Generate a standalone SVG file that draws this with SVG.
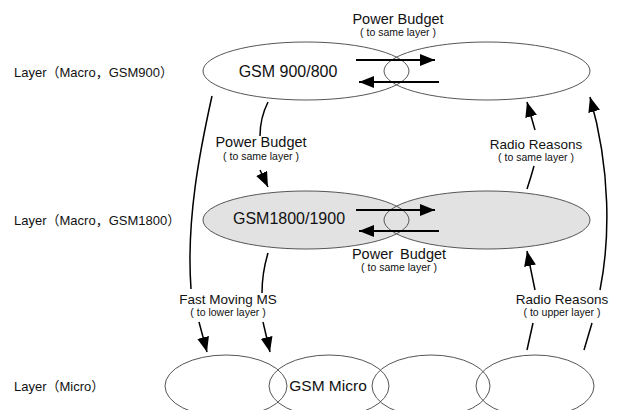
<svg xmlns="http://www.w3.org/2000/svg" width="620" height="410" viewBox="0 0 620 410">
<style>
.cell{stroke:#555;stroke-width:1}
.white{fill:none}
.gray{fill:#e2e2e2}
.lbl{font-family:"Liberation Sans",Arial,sans-serif;fill:#111;text-anchor:middle}
.big{font-size:16px}
.ttl{font-size:14.5px}
.sub{font-size:10.5px}
.layer{font-family:"Liberation Sans","Noto Sans CJK SC",sans-serif;font-size:13px;fill:#111}
.con{fill:none;stroke:#000;stroke-width:1.5}
.harr{fill:none;stroke:#000;stroke-width:2}
</style>
<defs>
<marker id="ah" markerUnits="userSpaceOnUse" markerWidth="16" markerHeight="12" refX="15" refY="6" orient="auto">
<path d="M0,0 L15,6 L0,12 z" fill="#000"/>
</marker>
</defs>
<rect width="620" height="410" fill="#fff"/>

<g id="layer-labels">
<text class="layer" x="14" y="77">Layer（Macro，GSM900）</text>
<text class="layer" x="14" y="225">Layer（Macro，GSM1800）</text>
<text class="layer" x="14" y="391">Layer（Micro）</text>
</g>

<g id="macro900">
<ellipse class="cell white" cx="306" cy="71" rx="103" ry="29"/>
<ellipse class="cell white" cx="487" cy="71" rx="103" ry="29"/>
<text class="lbl big" x="288" y="77">GSM 900/800</text>
</g>

<g id="macro1800">
<ellipse class="gray" cx="306" cy="220" rx="103" ry="29"/>
<ellipse class="gray" cx="487" cy="220" rx="103" ry="29"/>
<ellipse class="cell" fill="none" cx="306" cy="220" rx="103" ry="29"/>
<ellipse class="cell" fill="none" cx="487" cy="220" rx="103" ry="29"/>
<text class="lbl big" x="289" y="224">GSM1800/1900</text>
</g>

<g id="micro">
<ellipse class="cell white" cx="226" cy="386" rx="61" ry="31"/>
<ellipse class="cell white" cx="329" cy="386" rx="60" ry="31"/>
<ellipse class="cell white" cx="431" cy="386" rx="59" ry="31"/>
<ellipse class="cell white" cx="535" cy="386" rx="59" ry="31"/>
<text class="lbl" style="font-size:15.5px" x="328" y="391">GSM Micro</text>
</g>

<g id="connectors">
<path class="harr" d="M356,60 L435,60" marker-end="url(#ah)"/>
<path class="harr" d="M439,82 L359,82" marker-end="url(#ah)"/>
<path class="harr" d="M356,210 L435,210" marker-end="url(#ah)"/>
<path class="harr" d="M439,231 L359,231" marker-end="url(#ah)"/>

<path class="con" d="M212,96 C200,150 186,220 191,289"/>
<path class="con" d="M199,322 L207,352" marker-end="url(#ah)"/>
<path class="con" d="M268,253 Q262,273 262,293"/>
<path class="con" d="M263,322 L270,352" marker-end="url(#ah)"/>
<path class="con" d="M268,102 Q260,118 260,136"/>
<path class="con" d="M260,170 L268,187" marker-end="url(#ah)"/>
<path class="con" d="M527,189 Q531,177 534,166"/>
<path class="con" d="M535,130 L527,102" marker-end="url(#ah)"/>
<path class="con" d="M527,350 L533,323"/>
<path class="con" d="M535,290 L527,251" marker-end="url(#ah)"/>
<path class="con" d="M584,350 L592,323"/>
<path class="con" d="M600,290 C610,240 611,170 590,97" marker-end="url(#ah)"/>
</g>

<g id="labels">
<text class="lbl ttl" x="398" y="24">Power Budget</text>
<text class="lbl sub" x="398" y="36">( to same  layer )</text>
<text class="lbl ttl" x="261" y="147">Power Budget</text>
<text class="lbl sub" x="261" y="160">( to same  layer )</text>
<text class="lbl ttl" x="399" y="259" style="word-spacing:3px">Power Budget</text>
<text class="lbl sub" x="399" y="271">( to same  layer )</text>
<text class="lbl ttl" x="536" y="149" style="font-size:13.5px">Radio Reasons</text>
<text class="lbl sub" x="536" y="161">( to same  layer )</text>
<text class="lbl ttl" x="228" y="304" style="font-size:13.5px">Fast Moving MS</text>
<text class="lbl sub" x="228" y="316">( to lower  layer )</text>
<text class="lbl ttl" x="562" y="304" style="font-size:13.5px">Radio Reasons</text>
<text class="lbl sub" x="562" y="316">( to upper  layer )</text>
</g>
</svg>
